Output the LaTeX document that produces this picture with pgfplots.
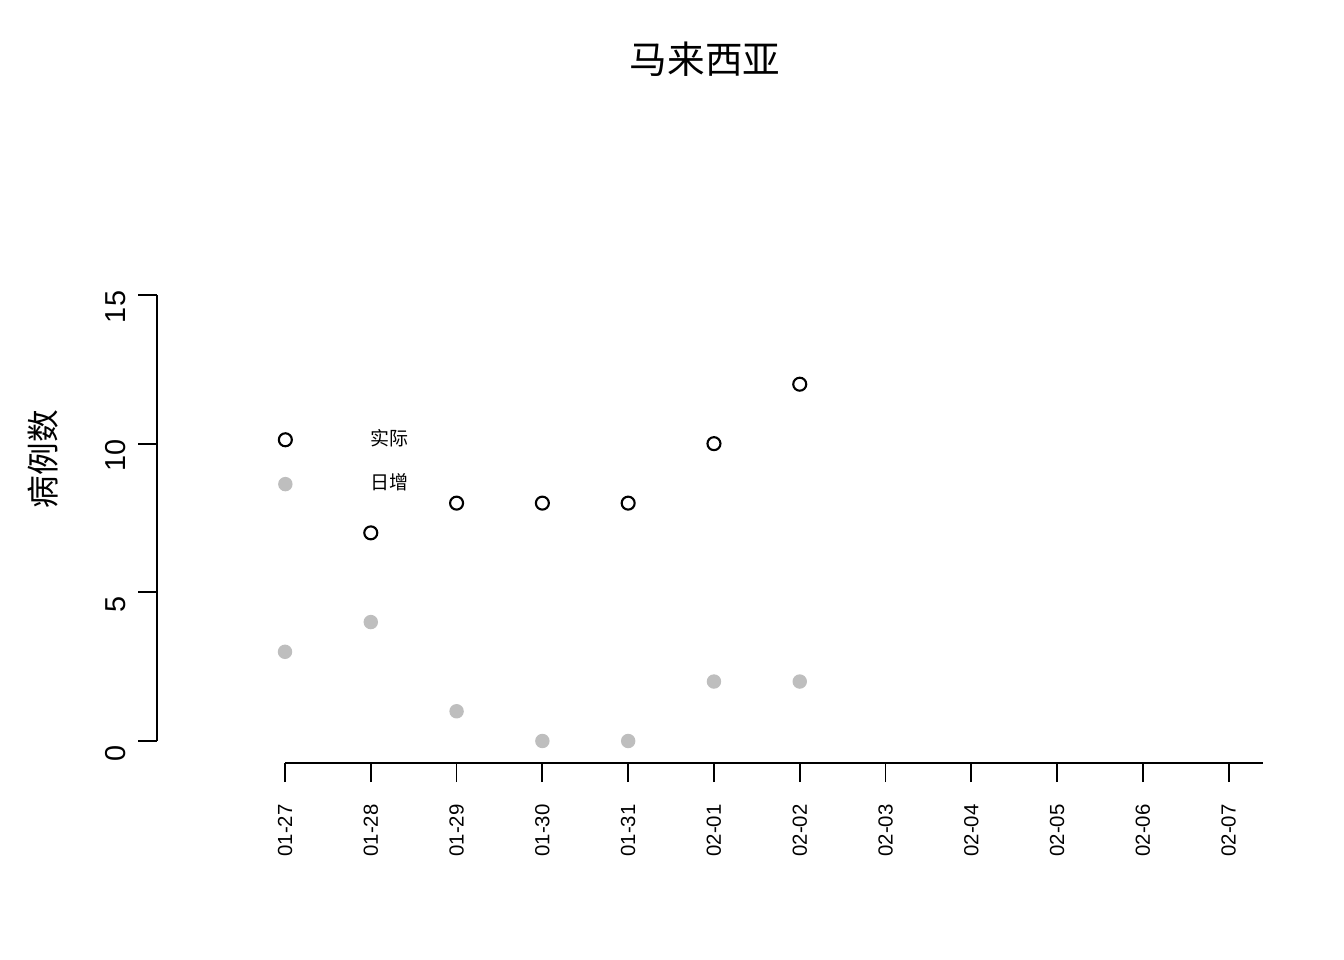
\documentclass[border=0pt]{standalone}
\usepackage{pgfplots}
\pgfplotsset{compat=1.18}
\usepackage{fontspec}
\setmainfont{Liberation Sans}
\newfontfamily\cjk{Noto Sans CJK SC}
\definecolor{gr}{RGB}{190,190,190}
\begin{document}
\begin{tikzpicture}[x=1mm,y=1mm]
\useasboundingbox[fill=white] (0,0) rectangle (134.4,-96);
\begin{axis}[
  scale only axis, width=110.6mm, height=46.8mm,
  at={(15.7mm,-76.3mm)}, anchor=south west,
  xmin=-1.492, xmax=11.4, ymin=-0.74, ymax=15,
  /pgf/number format/assume math mode=true,
  axis x line*=bottom, axis y line*=left,
  axis line style={draw=none},
  tick align=outside, major tick length=1.9mm,
  tick style={black, line width=0.5pt},
  xtick={0,...,11},
  xticklabels={01-27,01-28,01-29,01-30,01-31,02-01,02-02,02-03,02-04,02-05,02-06,02-07},
  xticklabel style={rotate=90, anchor=east, font=\fontsize{5.8}{6}\selectfont, xshift=-1mm},
  ytick={0,5,10,15},
  yticklabel style={rotate=90, anchor=south, font=\fontsize{8.2}{9}\selectfont, xshift=-1.2mm},
  ylabel={\cjk 病例数}, ylabel style={font=\fontsize{9.3}{10}\selectfont, yshift=2.3mm, xshift=7mm},
  title={\cjk 马来西亚}, title style={font=\fontsize{10.7}{12}\selectfont, at={(0.5,1)}, anchor=center, yshift=21.5mm, xshift=-0.5mm},
  clip=false,
  legend style={draw=none, fill=none, at={(axis cs:-0.08,10.75)}, anchor=north west,
    font=\cjk\fontsize{5.4}{6}\selectfont, row sep=0.9mm, inner sep=0pt},
  legend cell align=left,
]
\draw[line width=0.5pt] (axis cs:-1.492,0) -- (axis cs:-1.492,15);
\draw[line width=0.5pt] (axis cs:0,-0.74) -- (axis cs:11.4,-0.74);
\addplot[only marks, mark=o, mark size=0.65mm, line width=0.6pt, black]
  coordinates {(1,7) (2,8) (3,8) (4,8) (5,10) (6,12)};
\addlegendentry{\hspace*{7.2mm}实际}
\addplot[only marks, mark=*, mark size=0.65mm, gr, mark options={draw=gr,fill=gr}]
  coordinates {(0,3) (1,4) (2,1) (3,0) (4,0) (5,2) (6,2)};
\addlegendentry{\hspace*{7.2mm}日增}
\end{axis}
\end{tikzpicture}
\end{document}
